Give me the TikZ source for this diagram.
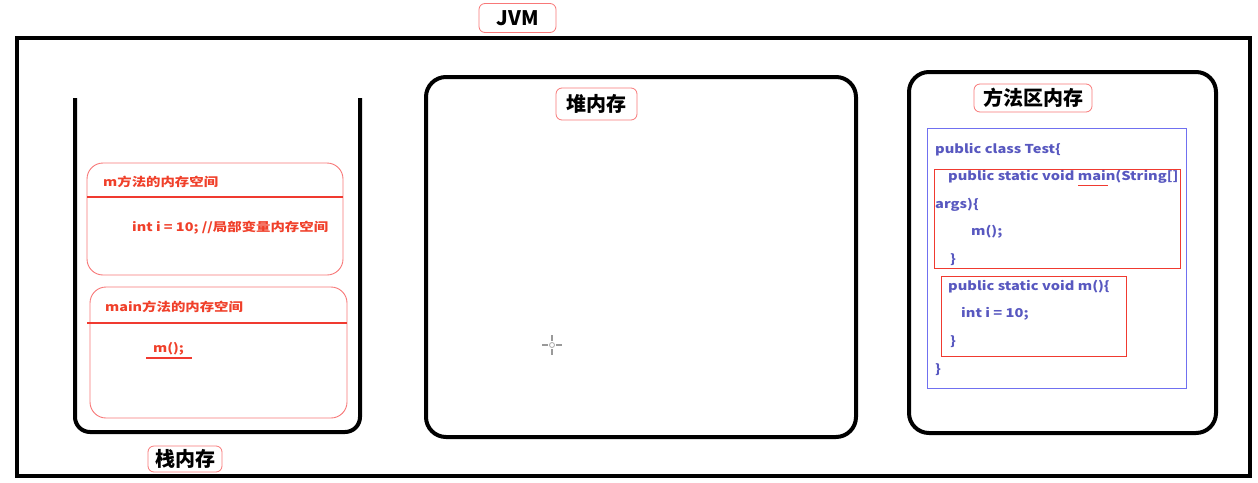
\documentclass[tikz,border=0pt]{standalone}
\usepackage{fontspec}
\setmainfont{Noto Sans CJK SC}
\newfontfamily\widefont{Noto Sans CJK SC}[FakeStretch=1.2]
\definecolor{redtxt}{HTML}{F0402A}
\definecolor{redline}{HTML}{F03A30}
\definecolor{frame}{HTML}{F87878}
\definecolor{bluetxt}{HTML}{5858C0}
\definecolor{blueline}{HTML}{7070F0}
\begin{document}
\begin{tikzpicture}[x=1pt,y=-1pt,
  thickbox/.style={draw=black,line width=4pt},
  label/.style={draw=frame,line width=0.8pt,rounded corners=6pt,inner sep=0pt,font=\bfseries\fontsize{20}{22}\selectfont,text=black},
  frametxt/.style={anchor=west,inner sep=0pt,text=redtxt,font=\widefont\bfseries\fontsize{12}{14}\selectfont},
  code/.style={anchor=west,inner sep=0pt,text=bluetxt,font=\widefont\bfseries\fontsize{12.2}{14}\selectfont},
  redbox/.style={draw=redline,line width=1pt},
  sep/.style={draw=redline,line width=2.2pt}]
\useasboundingbox (0,0) rectangle (1258,482);
\fill[white] (0,0) rectangle (1258,482);
% JVM outer
\draw[thickbox] (17,38) rectangle (1250,476);
\node[label,minimum width=77pt,minimum height=29pt] (jvm) at (517.5,18) {JVM};
% stack
\draw[thickbox,rounded corners=15pt] (75,98) -- (75,432) -- (360,432) -- (360,98);
\node[label,minimum width=74pt,minimum height=26pt] (stack) at (185,459) {栈内存};
% m frame
\draw[draw=frame,line width=0.9pt,rounded corners=16pt] (87,163) rectangle (343,275);
\draw[sep] (87,197) -- (343,197);
\node[frametxt] (mt) at (103,182) {m方法的内存空间};
\node[frametxt] (mi) at (132,228) {int i = 10; //局部变量内存空间};
% main frame
\draw[draw=frame,line width=0.9pt,rounded corners=16pt] (90,287) rectangle (347,418);
\draw[sep] (87,323) -- (347,323);
\node[frametxt] (mmt) at (105,307) {main方法的内存空间};
\node[frametxt] (mc) at (153,349) {m();};
\draw[redline,line width=2pt] (146,358) -- (192,358);
% heap
\draw[thickbox,rounded corners=20pt] (426,77) rectangle (856,437);
\node[label,minimum width=81pt,minimum height=32pt] (heap) at (596.5,104) {堆内存};
% cursor
\draw[gray!80,line width=1.5pt] (552,335) -- (552,341) (552,349) -- (552,355) (542,345) -- (548,345) (556,345) -- (562,345);
\draw[gray!70,line width=0.8pt] (552,345) circle (2.5pt);
% method area
\draw[thickbox,rounded corners=20pt] (909,72) rectangle (1216,433);
\node[label,minimum width=118pt,minimum height=28pt] (ma) at (1033,98) {方法区内存};
\draw[blueline,line width=1pt] (927,128) rectangle (1186,388);
\node[code] (c1) at (935,150) {public class Test\{};
\draw[redbox] (934,169) rectangle (1180,268);
\node[code] (c2) at (948,177) {public static void main(String[]};
\draw[redline,line width=1pt] (1078,185) -- (1108,185);
\node[code] (c3) at (935,205) {args)\{};
\node[code] (c4) at (971,232) {m();};
\node[code] (c5) at (950,260) {\}};
\draw[redbox] (941,276) rectangle (1126,356);
\node[code] (c6) at (948,287) {public static void m()\{};
\node[code] (c7) at (961,314) {int i = 10;};
\node[code] (c8) at (950,342) {\}};
\node[code] (c9) at (935,370) {\}};
\end{tikzpicture}
\end{document}
